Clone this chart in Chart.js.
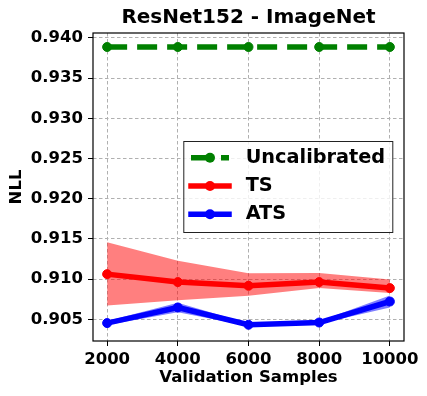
<!DOCTYPE html>
<html>
<head>
<meta charset="utf-8">
<title>ResNet152 - ImageNet</title>
<script src="https://cdn.jsdelivr.net/npm/chart.js@4.4.1/dist/chart.umd.min.js"></script>
<style>
    html, body { margin: 0; padding: 0; background: #fff; }
    canvas { display: block; }
</style>
</head>
<body>
<canvas id="nllChart" width="427" height="396"></canvas>
<script>
// Data
const samples = [2000, 4000, 6000, 8000, 10000];
const uncalibrated = [0.93888, 0.93888, 0.93888, 0.93888, 0.93888];
const tsMean = [0.91062, 0.90963, 0.90917, 0.90963, 0.90888];
const tsUpper = [0.91460, 0.91228, 0.91072, 0.91075, 0.90995];
const tsLower = [0.90672, 0.90736, 0.90792, 0.90888, 0.90826];
const atsMean = [0.90453, 0.90647, 0.90432, 0.90460, 0.90721];
const atsUpper = [0.90478, 0.90707, 0.90447, 0.90475, 0.90796];
const atsLower = [0.90428, 0.90587, 0.90417, 0.90445, 0.90646];
const xTicks = [2000, 4000, 6000, 8000, 10000];
const yTicks = [0.905, 0.910, 0.915, 0.920, 0.925, 0.930, 0.935, 0.940];

const FONT = "'DejaVu Sans', 'Liberation Sans', sans-serif";

function toPoints(values) {
    return samples.map((x, i) => ({ x: x, y: values[i] }));
}

// Title centred over the plot area (matplotlib style)
const plotTitle = {
    id: 'plotTitle',
    afterDraw(chart) {
        const { ctx, chartArea } = chart;
        ctx.save();
        ctx.font = 'bold 20px ' + FONT;
        ctx.fillStyle = '#000';
        ctx.textAlign = 'center';
        ctx.textBaseline = 'middle';
        ctx.fillText('ResNet152 - ImageNet', (chartArea.left + chartArea.right) / 2, 17.5);
        ctx.restore();
    }
};

// Full box around the axes
const frameBox = {
    id: 'frameBox',
    afterDatasetsDraw(chart) {
        const { ctx, chartArea } = chart;
        ctx.save();
        ctx.strokeStyle = '#000';
        ctx.lineWidth = 1.2;
        ctx.strokeRect(chartArea.left, chartArea.top,
            chartArea.right - chartArea.left, chartArea.bottom - chartArea.top);
        ctx.restore();
    }
};

// Legend drawn inside the plot, centre right
const innerLegend = {
    id: 'innerLegend',
    afterDraw(chart) {
        const { ctx, chartArea } = chart;
        const entries = chart.data.datasets.filter(d => d.showInLegend);
        const w = 210, h = 92;
        const x0 = chartArea.right - 10.7 - w;
        const y0 = (chartArea.top + chartArea.bottom) / 2 - h / 2;

        ctx.save();
        ctx.fillStyle = 'rgba(255,255,255,0.8)';
        ctx.fillRect(x0, y0, w, h);
        ctx.strokeStyle = '#222';
        ctx.lineWidth = 1;
        ctx.strokeRect(x0 + 0.5, y0 + 0.5, w - 1, h - 1);

        entries.forEach((ds, i) => {
            const cy = y0 + 16.8 + i * 28.2;
            const hx1 = x0 + 7.7, hx2 = x0 + 45.7;
            ctx.strokeStyle = ds.borderColor;
            ctx.lineWidth = ds.borderWidth;
            ctx.lineCap = ds.borderCapStyle;
            ctx.setLineDash(ds.borderDash || []);
            ctx.beginPath();
            ctx.moveTo(hx1, cy);
            ctx.lineTo(hx2, cy);
            ctx.stroke();
            ctx.setLineDash([]);
            ctx.fillStyle = ds.borderColor;
            ctx.beginPath();
            ctx.arc((hx1 + hx2) / 2, cy, ds.pointRadius + 0.5, 0, Math.PI * 2);
            ctx.fill();

            ctx.fillStyle = '#000';
            ctx.font = 'bold 19.3px ' + FONT;
            ctx.textAlign = 'left';
            ctx.textBaseline = 'middle';
            ctx.fillText(ds.label, x0 + 62.4, cy);
        });
        ctx.restore();
    }
};

const lineStyle = {
    borderWidth: 5.5,
    pointRadius: 4.5,
    pointBorderWidth: 1,
    borderCapStyle: 'square',
    borderJoinStyle: 'round',
    fill: false,
    tension: 0
};

const bandStyle = {
    borderWidth: 0,
    pointRadius: 0,
    tension: 0
};

new Chart(document.getElementById('nllChart'), {
    type: 'line',
    data: {
        datasets: [
            {
                ...lineStyle,
                label: 'Uncalibrated',
                data: toPoints(uncalibrated),
                borderColor: '#008000',
                backgroundColor: '#008000',
                borderDash: [20, 10],
                borderCapStyle: 'butt',
                showInLegend: true,
                order: 0
            },
            {
                ...lineStyle,
                label: 'TS',
                data: toPoints(tsMean),
                borderColor: '#ff0000',
                backgroundColor: '#ff0000',
                showInLegend: true,
                order: 4
            },
            {
                ...lineStyle,
                label: 'ATS',
                data: toPoints(atsMean),
                borderColor: '#0000ff',
                backgroundColor: '#0000ff',
                showInLegend: true,
                order: 1
            },
            {
                ...bandStyle,
                label: 'TS upper',
                data: toPoints(tsUpper),
                borderColor: 'rgba(255,0,0,0)',
                backgroundColor: 'rgba(255,0,0,0.5)',
                fill: '+1',
                order: 5
            },
            {
                ...bandStyle,
                label: 'TS lower',
                data: toPoints(tsLower),
                borderColor: 'rgba(255,0,0,0)',
                fill: false,
                order: 6
            },
            {
                ...bandStyle,
                label: 'ATS upper',
                data: toPoints(atsUpper),
                borderColor: 'rgba(0,0,255,0)',
                backgroundColor: 'rgba(0,0,255,0.5)',
                fill: '+1',
                order: 2
            },
            {
                ...bandStyle,
                label: 'ATS lower',
                data: toPoints(atsLower),
                borderColor: 'rgba(0,0,255,0)',
                fill: false,
                order: 3
            }
        ]
    },
    options: {
        responsive: false,
        devicePixelRatio: 1,
        animation: false,
        layout: {
            padding: { top: 33, right: 23, left: 0, bottom: 0 }
        },
        plugins: {
            legend: { display: false },
            title: { display: false },
            tooltip: { enabled: false }
        },
        scales: {
            x: {
                type: 'linear',
                min: 1600,
                max: 10400,
                afterBuildTicks: scale => { scale.ticks = xTicks.map(v => ({ value: v })); },
                afterFit: scale => { scale.height = 55; },
                grid: {
                    color: '#b0b0b0',
                    lineWidth: 1,
                    tickColor: '#000',
                    tickLength: 5,
                    tickWidth: 1
                },
                border: { display: false, dash: [3.5, 2.5] },
                ticks: {
                    color: '#000',
                    padding: 3.5,
                    maxRotation: 0,
                    font: { family: FONT, size: 16.5, weight: 'bold' },
                    callback: v => String(v)
                },
                title: {
                    display: true,
                    text: 'Validation Samples',
                    color: '#000',
                    font: { family: FONT, size: 16.5, weight: 'bold' },
                    padding: { top: 0, bottom: 8 }
                }
            },
            y: {
                type: 'linear',
                min: 0.9023,
                max: 0.94062,
                afterBuildTicks: scale => { scale.ticks = yTicks.map(v => ({ value: v })); },
                afterFit: scale => { scale.width = 93; },
                grid: {
                    color: '#b0b0b0',
                    lineWidth: 1,
                    tickColor: '#000',
                    tickLength: 5,
                    tickWidth: 1
                },
                border: { display: false, dash: [3.5, 2.5] },
                ticks: {
                    color: '#000',
                    padding: 5,
                    font: { family: FONT, size: 16.5, weight: 'bold' },
                    callback: v => v.toFixed(3)
                },
                title: {
                    display: true,
                    text: 'NLL',
                    color: '#000',
                    font: { family: FONT, size: 16.5, weight: 'bold' },
                    padding: { top: 6.6, bottom: 0 }
                }
            }
        }
    },
    plugins: [plotTitle, frameBox, innerLegend]
});
</script>
</body>
</html>
